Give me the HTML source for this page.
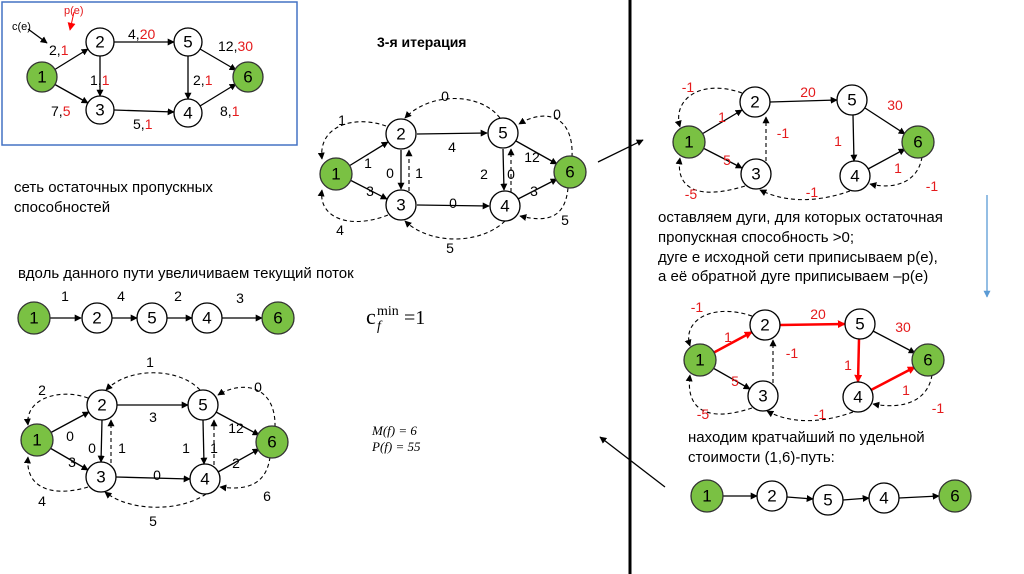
<!DOCTYPE html>
<html><head><meta charset="utf-8"><style>
html,body{margin:0;padding:0;background:#fff;}
svg{display:block;font-family:"Liberation Sans",sans-serif;}
.n{fill:#fff;stroke:#000;stroke-width:1.3}
.g{fill:#7ac143;stroke:#333;stroke-width:1.3}
.nt{font-size:17px;text-anchor:middle;dominant-baseline:central}
.l{font-size:14px;text-anchor:middle}
.r{fill:#e41a1c}
.e{stroke:#000;stroke-width:1.3;fill:none;marker-end:url(#a)}
.d{stroke:#000;stroke-width:1.1;fill:none;stroke-dasharray:4 3;marker-end:url(#a)}
.re{stroke:#f00;stroke-width:2.5;fill:none;marker-end:url(#ar)}
.t{font-size:15px}
</style></head><body>
<svg width="1024" height="574" viewBox="0 0 1024 574">
<defs>
<marker id="a" viewBox="0 0 10 10" refX="9" refY="5" markerWidth="7" markerHeight="7" markerUnits="userSpaceOnUse" orient="auto"><path d="M0,0L10,5L0,10z" fill="#000"/></marker>
<marker id="ar" viewBox="0 0 10 10" refX="9" refY="5" markerWidth="8" markerHeight="8" markerUnits="userSpaceOnUse" orient="auto"><path d="M0,0L10,5L0,10z" fill="#f00"/></marker>
<marker id="ab" viewBox="0 0 10 10" refX="9" refY="5" markerWidth="7" markerHeight="7" markerUnits="userSpaceOnUse" orient="auto"><path d="M0,0L10,5L0,10z" fill="#5b9bd5"/></marker>
</defs>

<!-- Graph A -->
<rect x="2" y="2" width="295" height="143" fill="none" stroke="#4472c4" stroke-width="1.5"/>
<path class="e" d="M54,70L88,49"/><path class="e" d="M54,84L88,103"/>
<path class="e" d="M114,42L174,42"/><path class="e" d="M100,56L100,96"/>
<path class="e" d="M114,110L174,112"/><path class="e" d="M188,56L188,99"/>
<path class="e" d="M200,49L236,70"/><path class="e" d="M200,106L236,84"/>
<path class="e" d="M28,29L47,43"/>
<path d="M74,12L70,30" stroke="#f00" stroke-width="1" fill="none" marker-end="url(#ar)"/>
<text x="12" y="30" font-size="11">c(e)</text><text x="64" y="14" font-size="11" class="r">p(e)</text>
<circle class="g" cx="42" cy="77" r="15"/><text class="nt" x="42" y="77">1</text>
<circle class="n" cx="100" cy="42" r="14"/><text class="nt" x="100" y="42">2</text>
<circle class="n" cx="100" cy="110" r="14"/><text class="nt" x="100" y="110">3</text>
<circle class="n" cx="188" cy="42" r="14"/><text class="nt" x="188" y="42">5</text>
<circle class="n" cx="188" cy="113" r="14"/><text class="nt" x="188" y="113">4</text>
<circle class="g" cx="248" cy="77" r="15"/><text class="nt" x="248" y="77">6</text>
<text x="49" y="55" font-size="14">2,<tspan class="r">1</tspan></text>
<text x="128" y="39" font-size="14">4,<tspan class="r">20</tspan></text>
<text x="218" y="51" font-size="14">12,<tspan class="r">30</tspan></text>
<text x="90" y="85" font-size="14">1,<tspan class="r">1</tspan></text>
<text x="193" y="85" font-size="14">2,<tspan class="r">1</tspan></text>
<text x="51" y="116" font-size="14">7,<tspan class="r">5</tspan></text>
<text x="133" y="129" font-size="14">5,<tspan class="r">1</tspan></text>
<text x="220" y="116" font-size="14">8,<tspan class="r">1</tspan></text>

<text x="377" y="47" font-size="14" font-weight="bold">3-я итерация</text>

<!-- Graph B -->
<path class="e" d="M349,166L388,142"/><path class="e" d="M350,180L387,199"/>
<path class="e" d="M417,134L487,133"/><path class="e" d="M401,150L401,189"/>
<path class="e" d="M417,205L489,206"/><path class="e" d="M503,149L504,190"/>
<path class="e" d="M516,141L557,164"/><path class="e" d="M518,199L557,179"/>
<path class="d" d="M409,191L409,150"/><path class="d" d="M511,192L511,149"/>
<path class="d" d="M500,118C480,92 430,92 405,118"/>
<path class="d" d="M386,126C355,115 318,125 322,159"/>
<path class="d" d="M388,215C350,230 318,218 322,190"/>
<path class="d" d="M572,157C574,115 545,108 519,124"/>
<path class="d" d="M505,221C480,245 430,245 405,221"/>
<path class="d" d="M568,188C565,220 545,222 520,216"/>
<circle class="g" cx="336" cy="174" r="16"/><text class="nt" x="336" y="174">1</text>
<circle class="n" cx="401" cy="134" r="15"/><text class="nt" x="401" y="134">2</text>
<circle class="n" cx="401" cy="205" r="15"/><text class="nt" x="401" y="205">3</text>
<circle class="n" cx="503" cy="133" r="15"/><text class="nt" x="503" y="133">5</text>
<circle class="n" cx="505" cy="206" r="15"/><text class="nt" x="505" y="206">4</text>
<circle class="g" cx="570" cy="172" r="16"/><text class="nt" x="570" y="172">6</text>
<text class="l" x="445" y="101">0</text><text class="l" x="342" y="125">1</text><text class="l" x="557" y="119">0</text>
<text class="l" x="368" y="168">1</text><text class="l" x="452" y="152">4</text><text class="l" x="532" y="162">12</text>
<text class="l" x="390" y="178">0</text><text class="l" x="419" y="178">1</text><text class="l" x="484" y="179">2</text>
<text class="l" x="511" y="179">0</text><text class="l" x="370" y="196">3</text><text class="l" x="453" y="208">0</text>
<text class="l" x="534" y="196">3</text><text class="l" x="340" y="235">4</text><text class="l" x="450" y="253">5</text><text class="l" x="565" y="225">5</text>

<text class="t" x="14" y="192">сеть остаточных  пропускных</text>
<text class="t" x="14" y="212">способностей</text>
<text class="t" x="18" y="278">вдоль данного пути увеличиваем текущий поток</text>

<!-- path row -->
<path class="e" d="M50,318L81,318"/><path class="e" d="M112,318L137,318"/>
<path class="e" d="M167,318L192,318"/><path class="e" d="M222,318L262,318"/>
<circle class="g" cx="34" cy="318" r="16"/><text class="nt" x="34" y="318">1</text>
<circle class="n" cx="97" cy="318" r="15"/><text class="nt" x="97" y="318">2</text>
<circle class="n" cx="152" cy="318" r="15"/><text class="nt" x="152" y="318">5</text>
<circle class="n" cx="207" cy="318" r="15"/><text class="nt" x="207" y="318">4</text>
<circle class="g" cx="278" cy="318" r="16"/><text class="nt" x="278" y="318">6</text>
<text class="l" x="65" y="301">1</text><text class="l" x="121" y="301">4</text><text class="l" x="178" y="301">2</text><text class="l" x="240" y="303">3</text>
<text x="366" y="324" font-family="Liberation Serif,serif" font-size="22">c</text>
<text x="377" y="330" font-family="Liberation Serif,serif" font-size="14" font-style="italic">f</text>
<text x="377" y="315" font-family="Liberation Serif,serif" font-size="14">min</text>
<text x="404" y="324" font-family="Liberation Serif,serif" font-size="20">=1</text>

<!-- Graph E -->
<path class="e" d="M50,433L89,412"/><path class="e" d="M50,448L88,470"/>
<path class="e" d="M117,405L188,405"/><path class="e" d="M102,420L101,462"/>
<path class="e" d="M116,477L190,479"/><path class="e" d="M203,420L204,464"/>
<path class="e" d="M216,412L259,435"/><path class="e" d="M218,472L259,449"/>
<path class="d" d="M111,463L111,420"/><path class="d" d="M214,465L214,420"/>
<path class="d" d="M200,390C180,368 130,366 106,390"/>
<path class="d" d="M88,398C60,388 25,398 28,425"/>
<path class="d" d="M88,487C55,497 25,490 28,457"/>
<path class="d" d="M275,427C276,385 242,380 218,395"/>
<path class="d" d="M206,494C180,512 130,512 105,492"/>
<path class="d" d="M270,457C266,488 242,490 220,487"/>
<circle class="g" cx="37" cy="440" r="16"/><text class="nt" x="37" y="440">1</text>
<circle class="n" cx="102" cy="405" r="15"/><text class="nt" x="102" y="405">2</text>
<circle class="n" cx="101" cy="477" r="15"/><text class="nt" x="101" y="477">3</text>
<circle class="n" cx="203" cy="405" r="15"/><text class="nt" x="203" y="405">5</text>
<circle class="n" cx="205" cy="479" r="15"/><text class="nt" x="205" y="479">4</text>
<circle class="g" cx="272" cy="442" r="16"/><text class="nt" x="272" y="442">6</text>
<text class="l" x="150" y="367">1</text><text class="l" x="42" y="395">2</text><text class="l" x="258" y="392">0</text>
<text class="l" x="70" y="441">0</text><text class="l" x="153" y="422">3</text><text class="l" x="236" y="433">12</text>
<text class="l" x="92" y="453">0</text><text class="l" x="122" y="453">1</text><text class="l" x="186" y="453">1</text>
<text class="l" x="214" y="453">1</text><text class="l" x="72" y="467">3</text><text class="l" x="157" y="480">0</text>
<text class="l" x="236" y="468">2</text><text class="l" x="42" y="506">4</text><text class="l" x="153" y="526">5</text><text class="l" x="267" y="501">6</text>
<text x="372" y="435" font-family="Liberation Serif,serif" font-style="italic" font-size="13">M(f) = 6</text>
<text x="372" y="451" font-family="Liberation Serif,serif" font-style="italic" font-size="13">P(f) = 55</text>

<!-- divider -->
<line x1="630" y1="0" x2="630" y2="574" stroke="#000" stroke-width="3"/>
<path class="e" d="M598,162L643,140"/>
<path class="e" d="M665,487L600,437"/>
<path d="M987,195L987,297" stroke="#5b9bd5" stroke-width="1.3" marker-end="url(#ab)"/>

<!-- Graph C -->
<path class="e" d="M702,134L742,110"/><path class="e" d="M703,148L742,168"/>
<path class="e" d="M770,102L837,100"/><path class="e" d="M853,115L854,161"/>
<path class="e" d="M865,108L905,134"/><path class="e" d="M868,169L905,149"/>
<path class="d" d="M766,161L766,117"/>
<path class="d" d="M742,93C700,78 672,100 680,127"/>
<path class="d" d="M745,186C700,200 675,190 680,158"/>
<path class="d" d="M850,191C810,205 780,200 760,190"/>
<path class="d" d="M922,157C918,182 895,190 870,184"/>
<circle class="g" cx="689" cy="142" r="16"/><text class="nt" x="689" y="142">1</text>
<circle class="n" cx="755" cy="102" r="15"/><text class="nt" x="755" y="102">2</text>
<circle class="n" cx="756" cy="174" r="15"/><text class="nt" x="756" y="174">3</text>
<circle class="n" cx="852" cy="100" r="15"/><text class="nt" x="852" y="100">5</text>
<circle class="n" cx="855" cy="176" r="15"/><text class="nt" x="855" y="176">4</text>
<circle class="g" cx="918" cy="142" r="16"/><text class="nt" x="918" y="142">6</text>
<g class="r">
<text class="l" x="688" y="92">-1</text><text class="l" x="722" y="122">1</text><text class="l" x="808" y="97">20</text>
<text class="l" x="895" y="110">30</text><text class="l" x="783" y="138">-1</text><text class="l" x="838" y="146">1</text>
<text class="l" x="727" y="165">5</text><text class="l" x="691" y="199">-5</text><text class="l" x="812" y="197">-1</text>
<text class="l" x="898" y="173">1</text><text class="l" x="932" y="191">-1</text></g>

<text class="t" x="658" y="222">оставляем дуги, для которых остаточная</text>
<text class="t" x="658" y="242">пропускная способность &gt;0;</text>
<text class="t" x="658" y="262">дуге е исходной сети приписываем p(e),</text>
<text class="t" x="658" y="281">а её обратной дуге приписываем –p(e)</text>

<!-- Graph D -->
<path class="re" d="M713,353L752,332"/><path class="e" d="M713,368L750,389"/>
<path class="re" d="M780,325L845,324"/><path class="re" d="M859,339L858,382"/>
<path class="e" d="M873,331L915,353"/><path class="re" d="M871,390L915,367"/>
<path class="d" d="M773,383L773,340"/>
<path class="d" d="M752,316C710,302 682,322 690,346"/>
<path class="d" d="M752,408C710,422 685,412 690,375"/>
<path class="d" d="M853,412C815,426 785,421 767,411"/>
<path class="d" d="M932,375C928,400 905,410 873,404"/>
<circle class="g" cx="700" cy="360" r="16"/><text class="nt" x="700" y="360">1</text>
<circle class="n" cx="765" cy="325" r="15"/><text class="nt" x="765" y="325">2</text>
<circle class="n" cx="763" cy="396" r="15"/><text class="nt" x="763" y="396">3</text>
<circle class="n" cx="860" cy="324" r="15"/><text class="nt" x="860" y="324">5</text>
<circle class="n" cx="858" cy="397" r="15"/><text class="nt" x="858" y="397">4</text>
<circle class="g" cx="928" cy="360" r="16"/><text class="nt" x="928" y="360">6</text>
<g class="r">
<text class="l" x="697" y="312">-1</text><text class="l" x="728" y="342">1</text><text class="l" x="818" y="319">20</text>
<text class="l" x="903" y="332">30</text><text class="l" x="792" y="358">-1</text><text class="l" x="848" y="370">1</text>
<text class="l" x="735" y="386">5</text><text class="l" x="703" y="419">-5</text><text class="l" x="820" y="419">-1</text>
<text class="l" x="906" y="395">1</text><text class="l" x="938" y="413">-1</text></g>

<text class="t" x="688" y="442">находим кратчайший по удельной</text>
<text class="t" x="688" y="462">стоимости (1,6)-путь:</text>

<path class="e" d="M723,496L757,496"/><path class="e" d="M787,497L813,499"/>
<path class="e" d="M843,500L869,498"/><path class="e" d="M899,498L939,496"/>
<circle class="g" cx="707" cy="496" r="16"/><text class="nt" x="707" y="496">1</text>
<circle class="n" cx="772" cy="496" r="15"/><text class="nt" x="772" y="496">2</text>
<circle class="n" cx="828" cy="500" r="15"/><text class="nt" x="828" y="500">5</text>
<circle class="n" cx="884" cy="498" r="15"/><text class="nt" x="884" y="498">4</text>
<circle class="g" cx="955" cy="496" r="16"/><text class="nt" x="955" y="496">6</text>
</svg>
</body></html>
